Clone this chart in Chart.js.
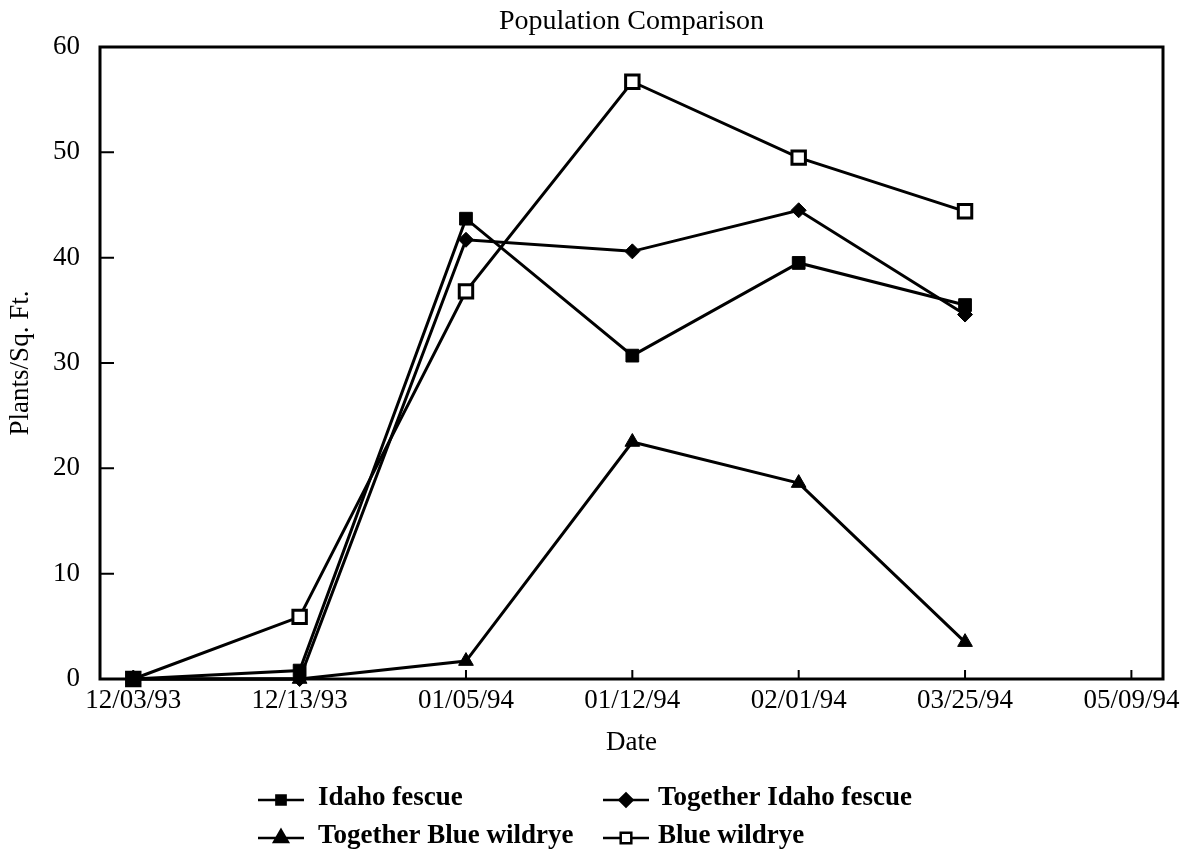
<!DOCTYPE html>
<html>
<head>
<meta charset="utf-8">
<title>Population Comparison</title>
<script src="https://cdn.jsdelivr.net/npm/chart.js@4.4.1/dist/chart.umd.min.js"></script>
<style>
    html, body { margin: 0; padding: 0; background: #fff; }
</style>
</head>
<body>
<canvas id="pop-chart" width="1190" height="860"></canvas>
<script>
// data
const chartTitle = "Population Comparison";
const dateLabels = ["12/03/93", "12/13/93", "01/05/94", "01/12/94", "02/01/94", "03/25/94", "05/09/94"];
const yTicks = [0, 10, 20, 30, 40, 50, 60];
const seriesNames = ["Idaho fescue", "Together Idaho fescue", "Together Blue wildrye", "Blue wildrye"];
const idahoFescue = [0, 0.8, 43.7, 30.7, 39.5, 35.5];
const togetherIdahoFescue = [0, 0, 41.7, 40.6, 44.5, 34.6];
const togetherBlueWildrye = [0, 0, 1.7, 22.5, 18.6, 3.5];
const blueWildrye = [0, 5.9, 36.8, 56.7, 49.5, 44.4];

const serif = "'Liberation Serif', 'DejaVu Serif', serif";

function toPoints(values) {
    return values.map((v, i) => ({ x: i, y: v }));
}

// marker style per series (legend uses smaller copies)
const markers = [
    { pointStyle: "rect", radius: 9, legendRadius: 6.5, fill: "#000" },
    { pointStyle: "rectRot", radius: 7.5, legendRadius: 6.5, fill: "#000" },
    { pointStyle: "triangle", radius: 8.5, legendRadius: 8, fill: "#000" },
    { pointStyle: "rect", radius: 9.5, legendRadius: 7.5, fill: "#fff" },
];

// frame, inward ticks, title and the 2x2 legend
const framePlugin = {
    id: "frame",
    beforeDatasetsDraw(chart) {
        const { ctx, chartArea: a, scales } = chart;
        ctx.save();
        ctx.strokeStyle = "#000";
        ctx.lineWidth = 3;
        ctx.strokeRect(a.left, a.top, a.right - a.left, a.bottom - a.top);

        ctx.lineWidth = 2;
        ctx.beginPath();
        scales.y.ticks.forEach((t) => {
            const py = scales.y.getPixelForValue(t.value);
            ctx.moveTo(a.left, py);
            ctx.lineTo(a.left + 14, py);
        });
        scales.x.ticks.forEach((t) => {
            const px = scales.x.getPixelForValue(t.value);
            ctx.moveTo(px, a.bottom);
            ctx.lineTo(px, a.bottom - 9);
        });
        ctx.stroke();

        ctx.fillStyle = "#000";
        ctx.font = "28px " + serif;
        ctx.textAlign = "center";
        ctx.textBaseline = "alphabetic";
        ctx.fillText(chartTitle, (a.left + a.right) / 2, 29);
        ctx.restore();
    },
    afterDraw(chart) {
        const ctx = chart.ctx;
        const symX = [258, 603];
        const textX = [318, 658];
        const baseY = [805, 843];
        ctx.save();
        chart.data.datasets.forEach((ds, i) => {
            const col = i % 2;
            const row = Math.floor(i / 2);
            const ly = baseY[row] - 5;
            ctx.strokeStyle = "#000";
            ctx.lineWidth = 2.5;
            ctx.beginPath();
            ctx.moveTo(symX[col], ly);
            ctx.lineTo(symX[col] + 46, ly);
            ctx.stroke();

            const m = markers[i];
            ctx.fillStyle = m.fill;
            ctx.lineWidth = 2.5;
            Chart.helpers.drawPoint(ctx, {
                pointStyle: m.pointStyle,
                radius: m.legendRadius,
                borderWidth: 2.5,
                rotation: 0,
            }, symX[col] + 23, ly);

            ctx.fillStyle = "#000";
            ctx.font = "bold 27px " + serif;
            ctx.textAlign = "left";
            ctx.textBaseline = "alphabetic";
            ctx.fillText(ds.label, textX[col], baseY[row]);
        });
        ctx.restore();
    },
};

const allSeries = [idahoFescue, togetherIdahoFescue, togetherBlueWildrye, blueWildrye];

const ctx = document.getElementById("pop-chart").getContext("2d");
new Chart(ctx, {
    type: "line",
    data: {
        datasets: allSeries.map((values, i) => ({
            label: seriesNames[i],
            data: toPoints(values),
            borderColor: "#000",
            borderWidth: 3,
            backgroundColor: markers[i].fill,
            pointStyle: markers[i].pointStyle,
            pointRadius: markers[i].radius,
            pointBorderWidth: markers[i].fill === "#fff" ? 3 : 1,
            pointBorderColor: "#000",
            pointBackgroundColor: markers[i].fill,
            tension: 0,
            fill: false,
            clip: false,
        })),
    },
    options: {
        responsive: false,
        animation: false,
        layout: {
            padding: { top: 47, right: 27, bottom: 99, left: 0 },
        },
        plugins: {
            legend: { display: false },
            title: { display: false },
            tooltip: { enabled: false },
        },
        scales: {
            x: {
                type: "linear",
                min: -0.2,
                max: 6.19,
                afterBuildTicks: (scale) => {
                    scale.ticks = dateLabels.map((_, i) => ({ value: i }));
                },
                afterFit: (scale) => {
                    scale.height = 82;
                },
                grid: { display: false, drawTicks: false },
                border: { display: false },
                ticks: {
                    autoSkip: false,
                    maxRotation: 0,
                    padding: 6,
                    color: "#000",
                    font: { family: serif, size: 27 },
                    callback: (value) => dateLabels[value] ?? "",
                },
                title: {
                    display: true,
                    text: "Date",
                    color: "#000",
                    font: { family: serif, size: 27 },
                    padding: { top: 0, bottom: 2 },
                },
            },
            y: {
                min: 0,
                max: 60,
                afterBuildTicks: (scale) => {
                    scale.ticks = yTicks.map((v) => ({ value: v }));
                },
                afterFit: (scale) => {
                    scale.width = 100;
                },
                grid: { display: false, drawTicks: false },
                border: { display: false },
                ticks: {
                    padding: 20,
                    color: "#000",
                    font: { family: serif, size: 27 },
                },
                title: {
                    display: true,
                    text: "Plants/Sq. Ft.",
                    color: "#000",
                    font: { family: serif, size: 27 },
                    padding: { top: 5, bottom: 0 },
                },
            },
        },
    },
    plugins: [framePlugin],
});
</script>
</body>
</html>
